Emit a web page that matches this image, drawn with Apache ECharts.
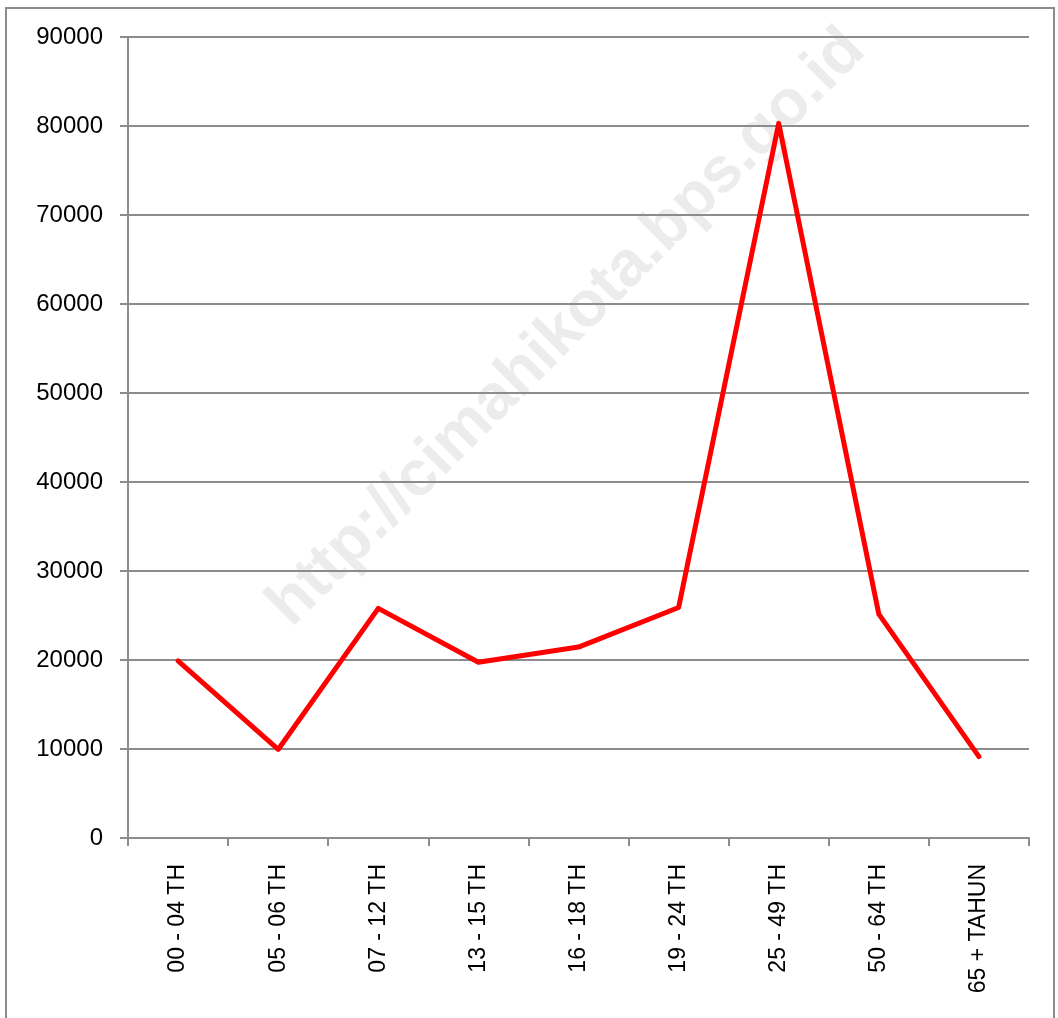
<!DOCTYPE html>
<html>
  <head>
    <meta charset="utf-8">
    <title>Penduduk menurut kelompok umur</title>
    <style>
      html, body { margin: 0; padding: 0; background: #fff; }
    </style>
  </head>
  <body>
    <div id="main" style="width: 1058px;height:1018px;"></div>

  <script src="https://cdn.jsdelivr.net/npm/echarts@6/dist/echarts.min.js" charset="utf-8"></script>
  <script type="text/javascript">
  var categories = ['00 - 04 TH', '05 - 06 TH', '07 - 12 TH', '13 - 15 TH', '16 - 18 TH',
                    '19 - 24 TH', '25 - 49 TH', '50 - 64 TH', '65 + TAHUN'];
  var values = [19900, 9950, 25800, 19750, 21450, 25900, 80300, 25150, 9150];
  var yTicks = [0, 10000, 20000, 30000, 40000, 50000, 60000, 70000, 80000, 90000];

  var myChart = echarts.init(document.getElementById('main'));

  var gray = '#8c8c8c';

  var option = {
    backgroundColor: '#fff',
    animation: false,
    graphic: [
      {
        // bingkai luar
        type: 'rect',
        z: -20,
        shape: { x: 6, y: 8, width: 1048, height: 1100 },
        style: { fill: 'none', stroke: gray, lineWidth: 2 }
      },
      {
        // watermark
        type: 'text',
        z: -10,
        x: 567,
        y: 328,
        rotation: Math.PI / 4,
        style: {
          text: 'http://cimahikota.bps.go.id',
          font: 'bold 64px "Liberation Sans", Arial, sans-serif',
          fill: '#ececec',
          align: 'center',
          verticalAlign: 'middle'
        }
      }
    ],
    grid: {
      left: 128,
      right: 29,
      top: 37,
      bottom: 180,
      containLabel: false
    },
    xAxis: {
      type: 'category',
      data: categories,
      boundaryGap: true,
      axisLine: { lineStyle: { color: gray, width: 2 } },
      axisTick: { show: true, length: 8, lineStyle: { color: gray, width: 2 } },
      axisLabel: {
        rotate: 90,
        margin: 26,
        color: '#000',
        fontSize: 23,
        fontFamily: '"Liberation Sans", Arial, sans-serif'
      }
    },
    yAxis: {
      type: 'value',
      min: yTicks[0],
      max: yTicks[yTicks.length - 1],
      interval: yTicks[1] - yTicks[0],
      axisLine: { show: true, lineStyle: { color: gray, width: 2 } },
      axisTick: { show: true, length: 8, lineStyle: { color: gray, width: 2 } },
      splitLine: { show: true, lineStyle: { color: gray, width: 2 } },
      axisLabel: {
        margin: 25,
        color: '#000',
        fontSize: 24,
        fontFamily: '"Liberation Sans", Arial, sans-serif',
        formatter: function (v) { return String(v); }
      }
    },
    series: [
      {
        type: 'line',
        data: values,
        showSymbol: false,
        symbol: 'none',
        lineStyle: { color: '#ff0000', width: 5, join: 'round', cap: 'round' },
        itemStyle: { color: '#ff0000' }
      }
    ]
  };
  myChart.setOption(option);
  </script>
  </body>
</html>
